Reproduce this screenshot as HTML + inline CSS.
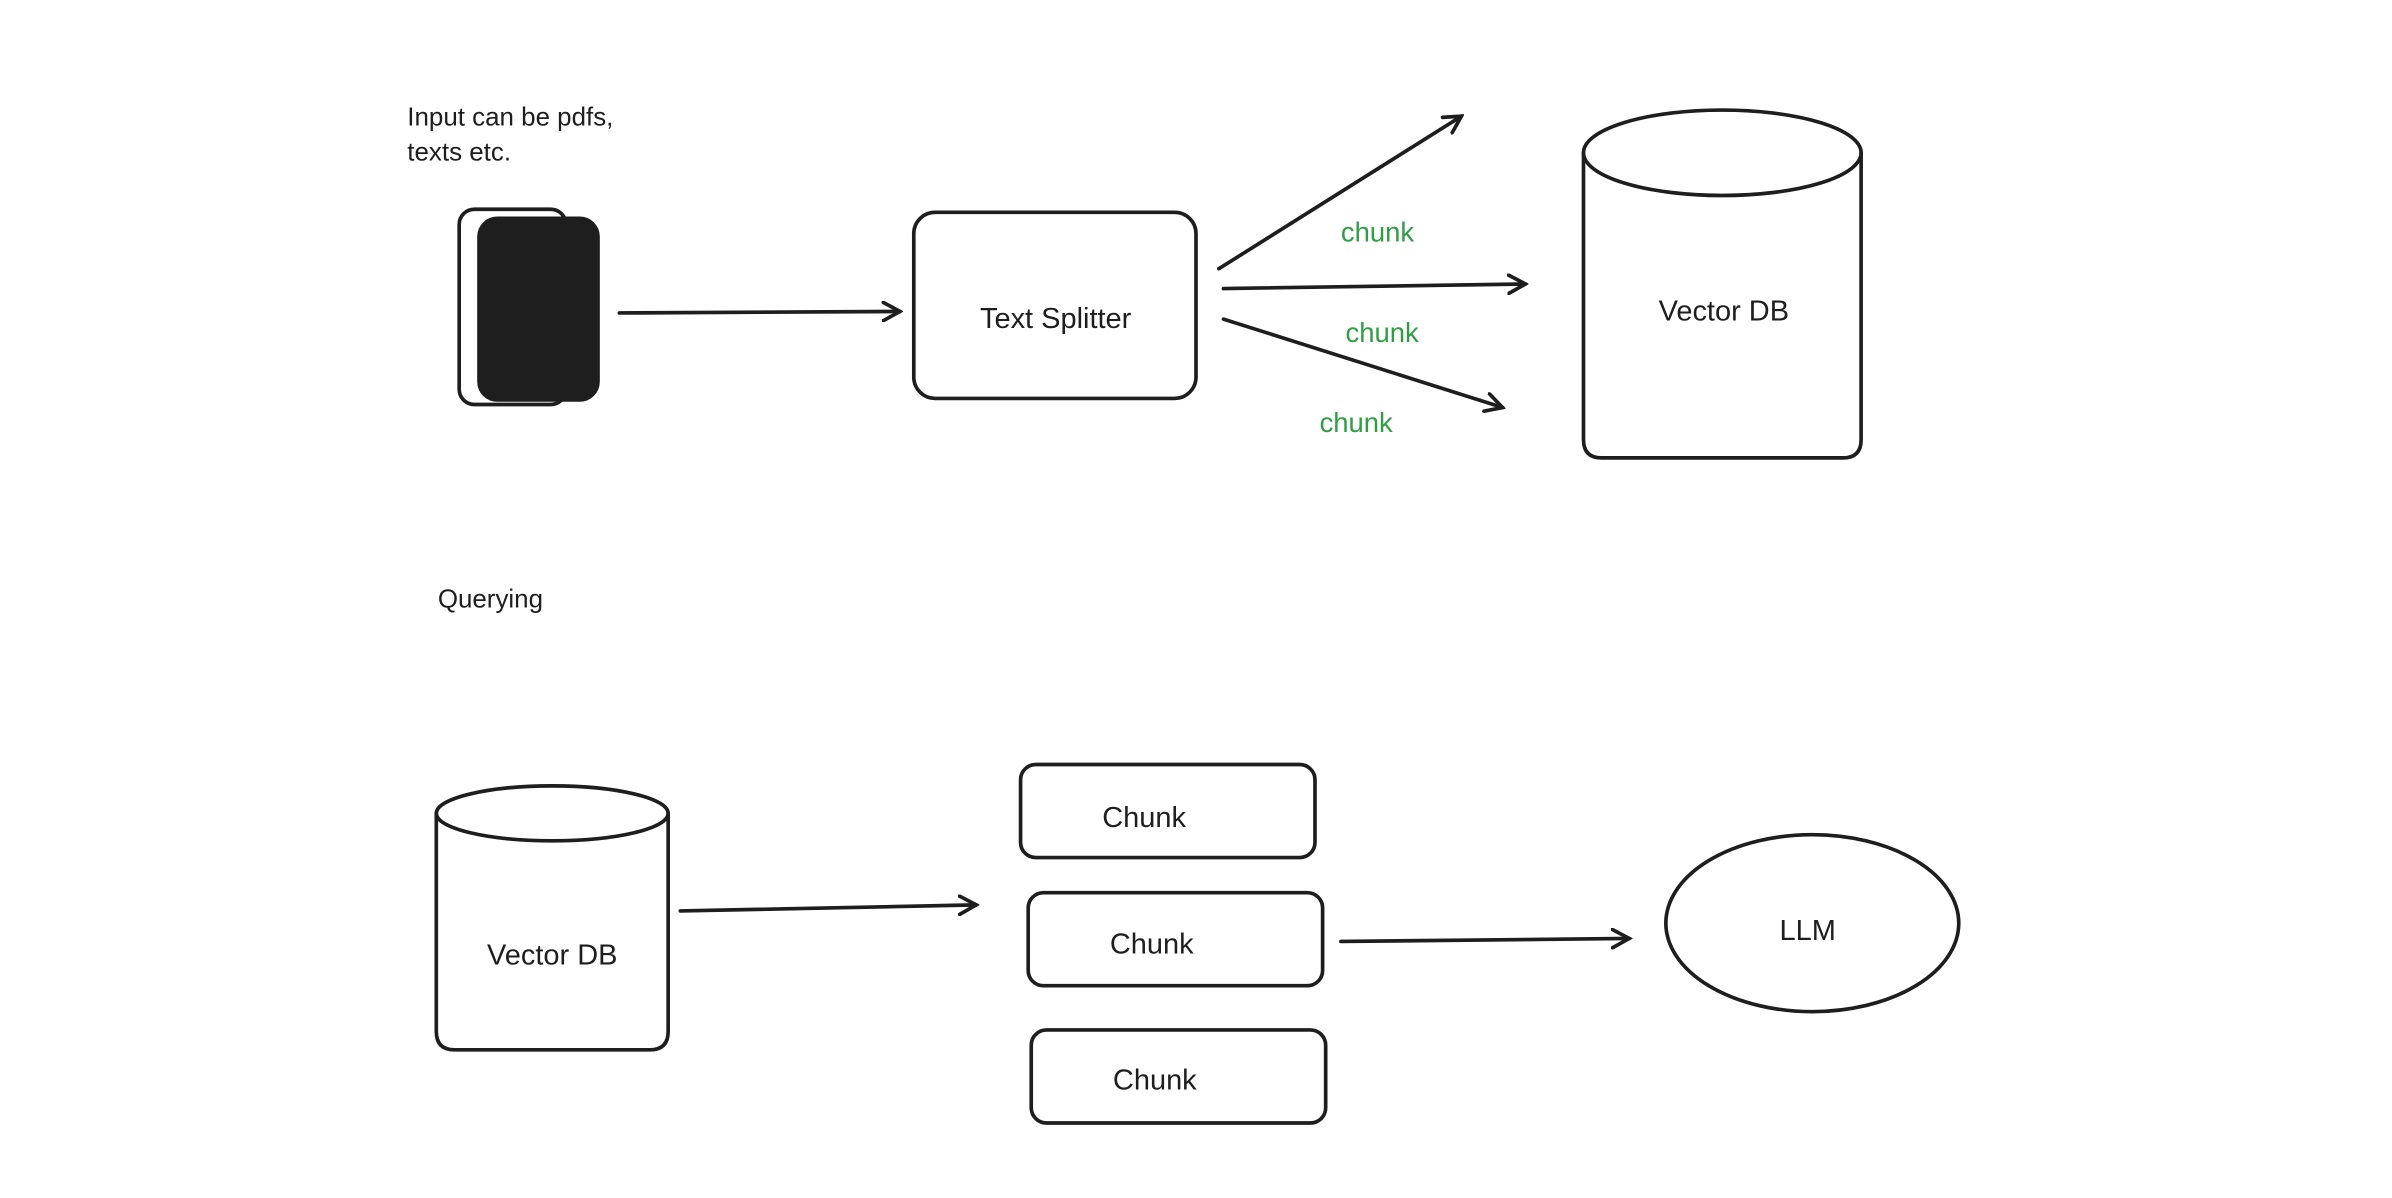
<!DOCTYPE html>
<html><head><meta charset="utf-8"><style>
html,body{margin:0;padding:0;background:#fff;}
svg{display:block;}
text{font-family:"Liberation Sans",sans-serif;fill:#1e1e1e;}
</style></head><body>
<svg width="2392" height="1198" viewBox="0 0 1568 785" xmlns="http://www.w3.org/2000/svg">
<defs>
<marker id="a" markerWidth="14" markerHeight="14" refX="12" refY="7" orient="auto" markerUnits="userSpaceOnUse">
<path d="M1,1 L12,7 L1,13" fill="none" stroke="#1e1e1e" stroke-width="2.4" stroke-linecap="round"/>
</marker>
</defs>
<g fill="none" stroke="#1e1e1e" stroke-width="2.4" stroke-linecap="round">
<rect x="301" y="137" width="70" height="128" rx="10"/>
<rect x="314" y="143" width="78" height="119" rx="12" fill="#1e1e1e"/>
<line x1="406" y1="205" x2="590" y2="204" marker-end="url(#a)"/>
<rect x="599" y="139" width="185" height="122" rx="14"/>
<line x1="799" y1="176" x2="958" y2="76" marker-end="url(#a)"/>
<line x1="802" y1="189" x2="1000" y2="186" marker-end="url(#a)"/>
<line x1="802" y1="209" x2="985" y2="267" marker-end="url(#a)"/>
<path d="M1038,100 L1038,288 Q1038,300 1050,300 L1208,300 Q1220,300 1220,288 L1220,100"/>
<ellipse cx="1129" cy="100" rx="91" ry="28"/>
<path d="M286,533 L286,676 Q286,688 298,688 L426,688 Q438,688 438,676 L438,533"/>
<ellipse cx="362" cy="533" rx="76" ry="18"/>
<line x1="446" y1="597" x2="640" y2="593" marker-end="url(#a)"/>
<rect x="669" y="501" width="193" height="61" rx="10"/>
<rect x="674" y="585" width="193" height="61" rx="10"/>
<rect x="676" y="675" width="193" height="61" rx="10"/>
<line x1="879" y1="617" x2="1068" y2="615" marker-end="url(#a)"/>
<ellipse cx="1188" cy="605" rx="96" ry="58"/>
</g>
<g font-size="17">
<text x="267" y="82">Input can be pdfs,</text>
<text x="267" y="105">texts etc.</text>
<text x="287" y="398">Querying</text>
</g>
<g font-size="19" text-anchor="middle">
<text x="692" y="215">Text Splitter</text>
<text x="1130" y="210">Vector DB</text>
<text x="362" y="632">Vector DB</text>
<text x="750" y="542">Chunk</text>
<text x="755" y="625">Chunk</text>
<text x="757" y="714">Chunk</text>
<text x="1185" y="616">LLM</text>
</g>
<g font-size="18" text-anchor="middle">
<text x="903" y="158" style="fill:#2f9e44">chunk</text>
<text x="906" y="224" style="fill:#2f9e44">chunk</text>
<text x="889" y="283" style="fill:#2f9e44">chunk</text>
</g>
</svg>
</body></html>
